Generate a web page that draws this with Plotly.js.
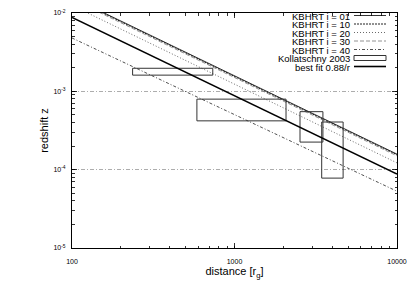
<!DOCTYPE html>
<html>
<head>
<meta charset="utf-8">
<script src="https://cdn.plot.ly/plotly-3.0.1.min.js"></script>
<style>html,body{margin:0;padding:0;background:#fff;}#chart{width:415px;height:291px;}</style>
</head>
<body>
<div id="chart"></div>
<script>
// ---- data ----
const distance = [100, 10000];            // r_g
const kbhrt01 = [1.58e-2, 1.58e-4];
const kbhrt10 = [1.55e-2, 1.55e-4];
const kbhrt20 = [1.25e-2, 1.22e-4];
const kbhrt30 = [1.50e-2, 1.50e-4];
const kbhrt40 = [4.8e-3, 5.3e-5];
const bestFit = [8.8e-3, 8.8e-5];          // 0.88/r

// Kollatschny 2003 boxes
const boxRmin = [236, 587, 2530, 3440];
const boxRmax = [735, 2075, 3500, 4660];
const boxZmin = [1.61e-3, 4.2e-4, 2.25e-4, 7.8e-5];
const boxZmax = [1.97e-3, 7.95e-4, 5.5e-4, 4.06e-4];

const xTickVals = [100, 1000, 10000];
const xTickText = ['100', '1000', '10000'];
const yTickVals = [1e-5, 1e-4, 1e-3, 1e-2];
const yTickText = ['10<sup>-5</sup>', '10<sup>-4</sup>', '10<sup>-3</sup>', '10<sup>-2</sup>'];

const legendNames = ['KBHRT i = 01', 'KBHRT i = 10', 'KBHRT i = 20', 'KBHRT i = 30', 'KBHRT i = 40', 'Kollatschny 2003', 'best fit 0.88/r'];

// ---- styles ----
const styles = [
  {color: '#000', width: 0.8, dash: 'solid'},
  {color: '#222', width: 1, dash: '2px,1px'},
  {color: '#444', width: 0.8, dash: '1px,2px'},
  {color: '#777', width: 0.8, dash: '4px,2px'},
  {color: '#222', width: 0.8, dash: '3px,2px,1px,2px'}
];
const series = [kbhrt01, kbhrt10, kbhrt20, kbhrt30, kbhrt40];

const traces = [];
series.forEach((s, i) => {
  traces.push({x: distance, y: s, type: 'scatter', mode: 'lines', name: legendNames[i],
    line: styles[i], showlegend: false, hoverinfo: 'skip'});
});
for (let i = 0; i < boxRmin.length; i++) {
  traces.push({
    x: [boxRmin[i], boxRmax[i], boxRmax[i], boxRmin[i], boxRmin[i]],
    y: [boxZmin[i], boxZmin[i], boxZmax[i], boxZmax[i], boxZmin[i]],
    type: 'scatter', mode: 'lines', name: legendNames[5],
    line: {color: '#333', width: 1}, showlegend: false, hoverinfo: 'skip'});
}
traces.push({x: distance, y: bestFit, type: 'scatter', mode: 'lines', name: legendNames[6],
  line: {color: '#000', width: 1.6}, showlegend: false, hoverinfo: 'skip'});

// ---- custom gnuplot-style legend (text right, sample to the right) ----
const L = 72, R = 397, T = 13, B = 248;
const px = v => (v - L) / (R - L);
const py = v => (B - v) / (B - T);
const rowY = [15.5, 24, 32.5, 41, 49.5, 58, 66.5];
const annotations = [];
const shapes = [];
legendNames.forEach((n, i) => {
  annotations.push({xref: 'paper', yref: 'paper', x: px(351), y: py(rowY[i] + 0.8), text: n,
    showarrow: false, xanchor: 'right', yanchor: 'middle', borderpad: 0,
    font: {family: 'Liberation Sans, Arial, sans-serif', size: 9.5, color: '#000'}});
  if (i < 5) {
    shapes.push({type: 'line', xref: 'paper', yref: 'paper', x0: px(354), x1: px(386),
      y0: py(rowY[i]), y1: py(rowY[i]), line: styles[i]});
  } else if (i === 5) {
    shapes.push({type: 'rect', xref: 'paper', yref: 'paper', x0: px(354), x1: px(386),
      y0: py(rowY[i] + 2.5), y1: py(rowY[i] - 2.5), line: {color: '#333', width: 1}});
  } else {
    shapes.push({type: 'line', xref: 'paper', yref: 'paper', x0: px(354), x1: px(386),
      y0: py(rowY[i]), y1: py(rowY[i]), line: {color: '#000', width: 1.6}});
  }
});

const tickFont = {family: 'Liberation Sans, Arial, sans-serif', size: 7, color: '#000'};
const layout = {
  width: 415, height: 291,
  margin: {l: L, r: 415 - R, t: T, b: 291 - B, pad: 0},
  paper_bgcolor: '#fff', plot_bgcolor: '#fff',
  showlegend: false,
  xaxis: {
    type: 'log', range: [2, 4], tickvals: xTickVals, ticktext: xTickText,
    ticks: 'inside', ticklen: 5, tickcolor: '#000', tickwidth: 0.8,
    minor: {ticks: 'inside', ticklen: 2.5, tickcolor: '#000', tickwidth: 0.8, dtick: 'D1', showgrid: false},
    showgrid: false, zeroline: false,
    showline: true, linecolor: '#000', linewidth: 1, mirror: 'allticks',
    tickfont: tickFont, ticklabelstandoff: 7,
    title: {text: 'distance [r<sub>g</sub>]', font: {family: 'Liberation Sans, Arial, sans-serif', size: 11, color: '#000'}, standoff: 1}
  },
  yaxis: {
    type: 'log', range: [-5, -2], tickvals: yTickVals, ticktext: yTickText,
    ticks: 'inside', ticklen: 5, tickcolor: '#000', tickwidth: 0.8,
    minor: {ticks: 'inside', ticklen: 2.5, tickcolor: '#000', tickwidth: 0.8, dtick: 'D1', showgrid: false},
    showgrid: true, gridcolor: '#999', gridwidth: 0.8, griddash: '4px,2px,1px,2px',
    zeroline: false,
    showline: true, linecolor: '#000', linewidth: 1, mirror: 'allticks',
    tickfont: tickFont, ticksuffix: '\u00a0\u00a0\u00a0\u00a0', ticklabelstandoff: 4,
    title: {text: 'redshift z', font: {family: 'Liberation Sans, Arial, sans-serif', size: 11, color: '#000'}, standoff: 2}
  },
  annotations: annotations,
  shapes: shapes
};

Plotly.newPlot('chart', traces, layout, {staticPlot: true, displayModeBar: false});
</script>
</body>
</html>
